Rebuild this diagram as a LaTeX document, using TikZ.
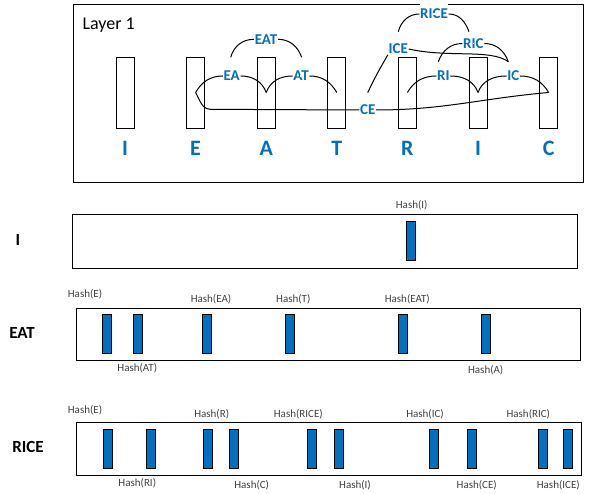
\documentclass[tikz,border=0pt]{standalone}
\usepackage{fontspec}
\setmainfont{Carlito}
\usetikzlibrary{positioning, calc}
\definecolor{wordblue}{RGB}{0,112,192}
\definecolor{hashgray}{RGB}{64,64,64}

\begin{document}
\begin{tikzpicture}[
    x=1pt, y=1pt,
    slot/.style={rectangle, draw, line width=0.8pt, minimum width=18pt, minimum height=71pt, inner sep=0pt},
    letter/.style={font=\fontsize{22}{24}\selectfont\bfseries, text=wordblue},
    gram/.style={fill=white, inner sep=0.6pt, font=\fontsize{15}{16}\selectfont\bfseries, text=wordblue},
    link/.style={line width=1pt},
    rowbox/.style={rectangle, draw, line width=0.8pt, inner sep=0pt},
    hbar/.style={rectangle, draw, line width=0.6pt, fill=wordblue, minimum width=9pt, minimum height=39pt, inner sep=0pt},
    hlabel/.style={font=\fontsize{11}{12}\selectfont, text=hashgray, inner sep=0pt},
    rowname/.style={font=\fontsize{17}{18}\selectfont\bfseries}
]
\useasboundingbox (0,0) rectangle (593,493);

% Layer 1
\draw[line width=0.8pt] (73,311) rectangle (583,489);
\node[anchor=west, font=\fontsize{18}{20}\selectfont] (layer) at (79,468) {Layer 1};
\foreach \ch [count=\i] in {I,E,A,T,R,I,C} {
  \node[slot] (b\i) at ({125+70.6*(\i-1)}, 400.5) {};
  \node[letter, below=9.5pt of b\i] (l\i) {\ch};
}

% n-grams
\node[gram] (ea) at (231.7,417) {EA};
\node[gram] (at) at (301,417) {AT};
\node[gram] (eat) at (266,453.7) {EAT};
\node[gram] (ce) at (367.7,383) {CE};
\node[gram] (ice) at (398.3,444) {ICE};
\node[gram, inner ysep=5.5pt] (rice) at (434,479) {RICE};
\node[gram] (ric) at (473.3,449.5) {RIC};
\node[gram] (ri) at (443.3,417) {RI};
\node[gram] (ic) at (513.3,417) {IC};

\coordinate (eat-l) at (230.7,435.7);
\coordinate (eat-r) at (301.7,435.7);
\coordinate (ce-kink) at (210,383.7);
\coordinate (ce-up) at (367.7,400.3);
\coordinate (rice-l) at (398.3,461.3);
\coordinate (rice-r) at (469,461.3);
\coordinate (ri-top) at (438.3,431.3);
\coordinate (ic-top) at (508.3,431.3);

% Arcs
\begin{scope}[link]
\draw (b2.center) to[out=60,in=180] (ea.west);
\draw (ea.east) to[out=0,in=110] (b3.center);
\draw (b3.center) to[out=70,in=180] (at.west);
\draw (at.east) to[out=0,in=120] (b4.center);
\draw (eat-l) to[out=75,in=180] (eat.west);
\draw (eat.east) to[out=0,in=110] (eat-r);
\draw (b2.center) to[out=-60,in=175] (ce-kink) -- (ce.west);
\draw (ce.east) to[out=0,in=185] (b7.center);
\draw (ce-up) to[out=65,in=240] (ice.south west);
\draw (rice-l) to[out=75,in=180] (rice.west);
\draw (rice.east) to[out=0,in=110] (rice-r);
\draw (ice.east) .. controls +(40,-9) and +(-18,13) .. (ic-top);
\draw (ri-top) to[out=70,in=180] (ric.west);
\draw (ric.east) to[out=0,in=110] (ic-top);
\draw (b5.center) to[out=60,in=180] (ri.west);
\draw (ri.east) to[out=0,in=110] (b6.center);
\draw (b6.center) to[out=70,in=180] (ic.west);
\draw (ic.east) to[out=0,in=120] (b7.center);
\end{scope}
\foreach \g in {ea,at,eat,ce,ice,rice,ric,ri,ic}
  \node[gram] at (\g) {};

% Row I
\node[rowname] (n1) at (18,253) {I};
\node[rowbox, minimum width=505pt, minimum height=54pt] (row1) at (324.5,252) {};
\node[hbar] (r1b1) at (411.2,251.8) {};
\node[hlabel] (h1a) at (411.7,288) {Hash(I)};

% Row EAT
\node[rowname] (n2) at (22,160) {EAT};
\node[rowbox, minimum width=504.7pt, minimum height=52.7pt] (row2) at (328.35,158.65) {};
\foreach \x [count=\i] in {107.2,137.8,207.2,289.7,403,485.3}
  \node[hbar, minimum height=38.6pt] (r2b\i) at (\x,159) {};
\node[hlabel] (h2a) at (85,199) {Hash(E)};
\node[hlabel] (h2b) at (211,194) {Hash(EA)};
\node[hlabel] (h2c) at (293.3,194) {Hash(T)};
\node[hlabel] (h2d) at (407.3,194) {Hash(EAT)};
\node[hlabel] (h2e) at (137.3,124.7) {Hash(AT)};
\node[hlabel] (h2f) at (485.7,122.3) {Hash(A)};

% Row RICE
\node[rowname] (n3) at (28,46) {RICE};
\node[rowbox, minimum width=505pt, minimum height=53pt] (row3) at (329.2,43.8) {};
\foreach \x [count=\i] in {107.8,150.5,207.8,233.3,311.7,338.3,433.3,472.2,542.3,567.5}
  \node[hbar, minimum height=38.6pt] (r3b\i) at (\x,44) {};
\node[hlabel] (h3a) at (85,83) {Hash(E)};
\node[hlabel] (h3b) at (211.7,79) {Hash(R)};
\node[hlabel] (h3c) at (298.3,79) {Hash(RICE)};
\node[hlabel] (h3d) at (425,79) {Hash(IC)};
\node[hlabel] (h3e) at (528.3,79) {Hash(RIC)};
\node[hlabel] (h3f) at (137.3,9.7) {Hash(RI)};
\node[hlabel] (h3g) at (251.7,7.3) {Hash(C)};
\node[hlabel] (h3h) at (355,7.3) {Hash(I)};
\node[hlabel] (h3i) at (476.7,7.3) {Hash(CE)};
\node[hlabel] (h3j) at (558.3,7.3) {Hash(ICE)};

\end{tikzpicture}
\end{document}
